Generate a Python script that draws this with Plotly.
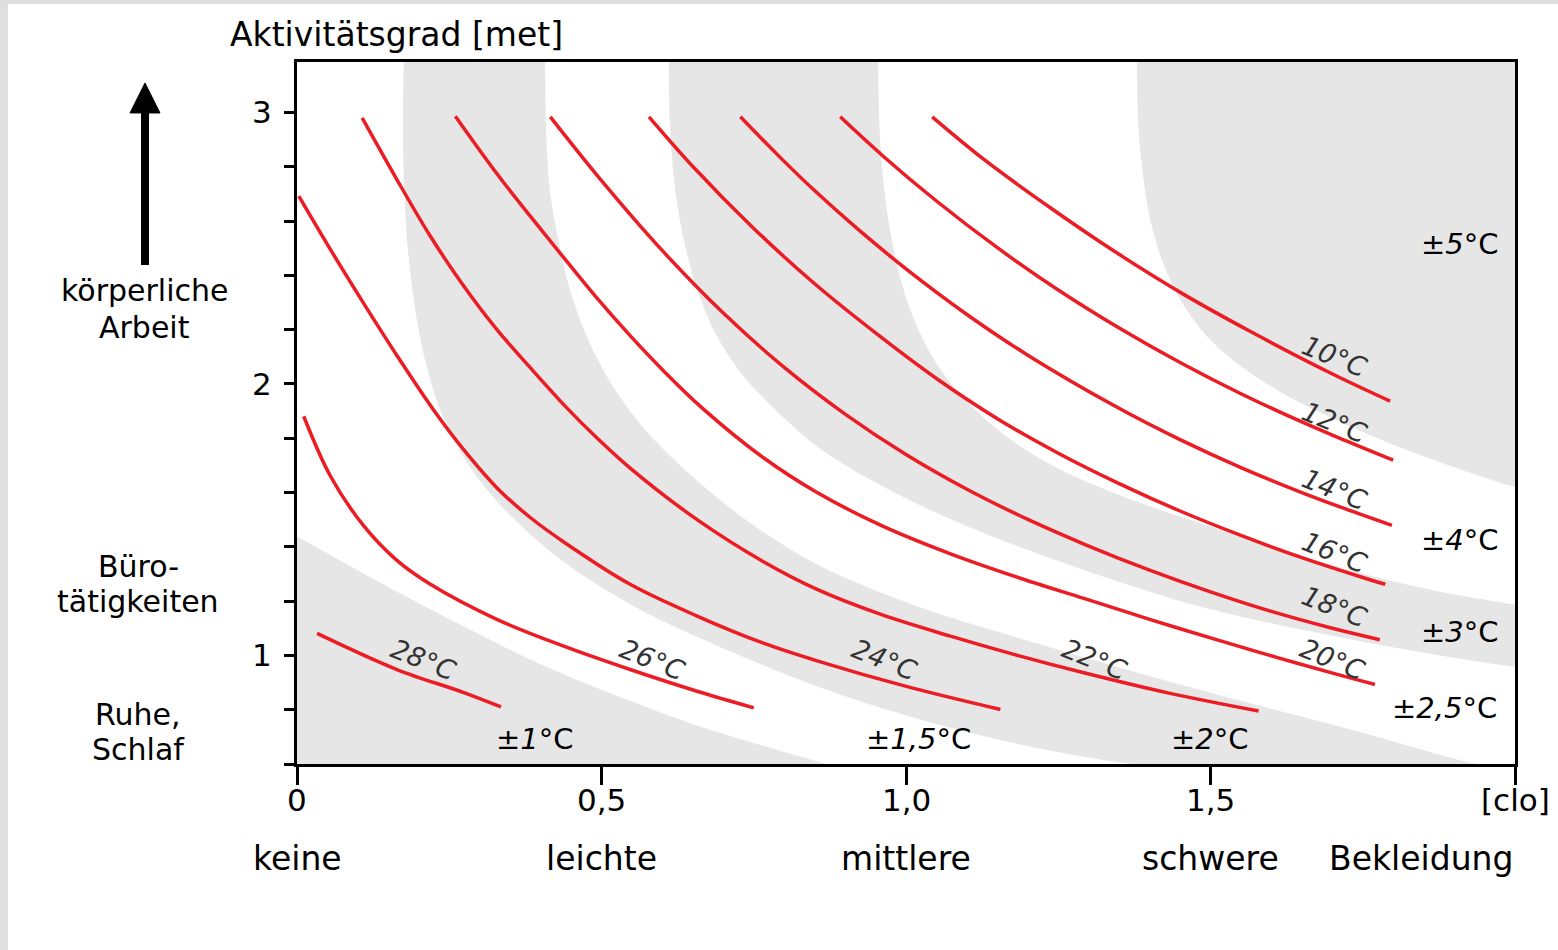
import plotly.graph_objects as go

# ---------------- data ----------------
# x = clothing insulation [clo], y = activity level [met]
T10_X = [1.043, 1.128, 1.237, 1.346, 1.456, 1.565, 1.702, 1.795]
T10_Y = [2.984, 2.827, 2.649, 2.483, 2.330, 2.194, 2.035, 1.937]
T12_X = [0.892, 0.963, 1.050, 1.150, 1.250, 1.350, 1.450, 1.550, 1.650, 1.708, 1.800]
T12_Y = [2.984, 2.838, 2.674, 2.502, 2.346, 2.206, 2.079, 1.964, 1.860, 1.804, 1.719]
T14_X = [0.728, 0.790, 0.848, 0.920, 1.000, 1.100, 1.200, 1.346, 1.450, 1.550, 1.650, 1.708, 1.798]
T14_Y = [2.984, 2.842, 2.716, 2.572, 2.424, 2.256, 2.106, 1.915, 1.795, 1.692, 1.600, 1.551, 1.479]
T16_X = [0.578, 0.650, 0.750, 0.850, 0.950, 1.050, 1.150, 1.250, 1.350, 1.450, 1.550, 1.650, 1.750, 1.787]
T16_Y = [2.984, 2.801, 2.573, 2.369, 2.188, 2.020, 1.872, 1.745, 1.633, 1.532, 1.442, 1.360, 1.287, 1.262]
T18_X = [0.416, 0.500, 0.600, 0.700, 0.800, 0.900, 1.000, 1.100, 1.200, 1.300, 1.400, 1.500, 1.600, 1.700, 1.778]
T18_Y = [2.984, 2.749, 2.491, 2.261, 2.061, 1.889, 1.740, 1.612, 1.501, 1.403, 1.314, 1.234, 1.162, 1.100, 1.058]
T20_X = [0.260, 0.328, 0.383, 0.438, 0.493, 0.547, 0.602, 0.665, 0.766, 0.854, 0.960, 1.072, 1.180, 1.292, 1.400, 1.511, 1.610, 1.708, 1.770]
T20_Y = [2.986, 2.775, 2.618, 2.465, 2.315, 2.178, 2.048, 1.912, 1.728, 1.600, 1.478, 1.375, 1.290, 1.210, 1.133, 1.057, 0.992, 0.930, 0.893]
T22_X = [0.107, 0.164, 0.219, 0.274, 0.328, 0.383, 0.443, 0.493, 0.547, 0.657, 0.766, 0.854, 0.960, 1.073, 1.180, 1.292, 1.430, 1.579]
T22_Y = [2.980, 2.753, 2.544, 2.360, 2.201, 2.060, 1.912, 1.800, 1.690, 1.500, 1.345, 1.243, 1.150, 1.071, 1.002, 0.936, 0.862, 0.795]
T24_X = [0.003, 0.055, 0.110, 0.164, 0.224, 0.274, 0.328, 0.383, 0.438, 0.547, 0.657, 0.766, 0.854, 1.002, 1.155]
T24_Y = [2.692, 2.495, 2.295, 2.105, 1.905, 1.757, 1.618, 1.508, 1.418, 1.262, 1.145, 1.045, 0.980, 0.885, 0.801]
T26_X = [0.011, 0.055, 0.110, 0.164, 0.219, 0.328, 0.438, 0.547, 0.657, 0.750]
T26_Y = [1.881, 1.660, 1.476, 1.350, 1.262, 1.133, 1.034, 0.948, 0.868, 0.807]
T28_X = [0.033, 0.164, 0.274, 0.335]
T28_Y = [1.081, 0.948, 0.863, 0.810]

CURVES = [(T10_X, T10_Y), (T12_X, T12_Y), (T14_X, T14_Y), (T16_X, T16_Y),
          (T18_X, T18_Y), (T20_X, T20_Y), (T22_X, T22_Y), (T24_X, T24_Y),
          (T26_X, T26_Y), (T28_X, T28_Y)]

TEMP_LABELS = ["10°C", "12°C", "14°C", "16°C", "18°C", "20°C", "22°C", "24°C", "26°C", "28°C"]
TEMP_LABEL_X = [1.704, 1.704, 1.704, 1.704, 1.703, 1.701, 1.310, 0.964, 0.583, 0.207]
TEMP_LABEL_Y = [2.101, 1.858, 1.611, 1.379, 1.180, 0.985, 0.985, 0.985, 0.985, 0.985]

# boundaries of the tolerance bands (grey / white), continued beyond the frame
B1_X = [-0.10, 0.0, 0.136, 0.268, 0.383, 0.498, 0.662, 0.849, 0.95]
B1_Y = [1.56, 1.438, 1.269, 1.114, 0.985, 0.875, 0.738, 0.613, 0.545]
B2_X = [0.177, 0.174, 0.176, 0.182, 0.194, 0.210, 0.235, 0.276, 0.333, 0.432, 0.563, 0.711, 0.859, 1.023, 1.187, 1.319, 1.450]
B2_Y = [3.40, 2.974, 2.716, 2.495, 2.274, 2.090, 1.906, 1.722, 1.556, 1.354, 1.169, 1.015, 0.882, 0.764, 0.672, 0.617, 0.573]
B3_X = [0.407, 0.409, 0.415, 0.429, 0.448, 0.478, 0.517, 0.571, 0.645, 0.736, 0.854, 1.023, 1.220, 1.401, 1.578, 1.749, 1.905, 2.05]
B3_Y = [3.40, 2.937, 2.716, 2.532, 2.348, 2.164, 1.998, 1.832, 1.667, 1.501, 1.335, 1.177, 1.041, 0.923, 0.816, 0.716, 0.617, 0.545]
B4_X = [0.611, 0.612, 0.621, 0.635, 0.657, 0.688, 0.731, 0.785, 0.854, 0.941, 1.056, 1.220, 1.483, 1.773, 1.997, 2.05]
B4_Y = [3.40, 2.974, 2.716, 2.532, 2.348, 2.182, 2.035, 1.906, 1.770, 1.648, 1.519, 1.372, 1.180, 1.041, 0.959, 0.950]
B5_X = [0.954, 0.956, 0.961, 0.971, 0.987, 1.013, 1.051, 1.105, 1.171, 1.253, 1.369, 1.515, 1.647, 1.787, 1.893, 1.997, 2.05]
B5_Y = [3.40, 2.974, 2.790, 2.606, 2.422, 2.238, 2.072, 1.924, 1.796, 1.685, 1.575, 1.464, 1.368, 1.280, 1.228, 1.188, 1.170]
B6_X = [1.379, 1.381, 1.388, 1.401, 1.423, 1.455, 1.499, 1.557, 1.631, 1.722, 1.812, 1.911, 1.998, 2.05]
B6_Y = [3.40, 2.974, 2.790, 2.606, 2.440, 2.293, 2.164, 2.053, 1.950, 1.851, 1.766, 1.685, 1.622, 1.600]

TOL_LABELS = ["±<i>1</i>°C", "±<i>1,5</i>°C", "±<i>2</i>°C", "±<i>2,5</i>°C", "±<i>3</i>°C", "±<i>4</i>°C", "±<i>5</i>°C"]
TOL_X = [0.391, 1.020, 1.499, 1.885, 1.910, 1.910, 1.910]
TOL_Y = [0.691, 0.691, 0.691, 0.808, 1.088, 1.424, 2.514]

X_TICKS = [0, 0.5, 1.0, 1.5, 2.0]
X_TICK_TEXT = ["0", "0,5", "1,0", "1,5", "[clo]"]
X_CLASS_X = [0, 0.5, 1.0, 1.5]
X_CLASS_TEXT = ["keine", "leichte", "mittlere", "schwere"]
Y_TICKS = [1, 2, 3]
Y_TICK_TEXT = ["1", "2", "3"]

X_RANGE = [0, 2.0]
Y_RANGE = [0.6, 3.186]

# ---------------- styling ----------------
GREY = "#e6e6e6"
RED = "#ec1c24"
FONT = "DejaVu Sans"

fig = go.Figure()


def spline_trace(xs, ys, fill=None):
    return go.Scatter(x=xs, y=ys, mode="lines", line=dict(width=0, shape="spline", smoothing=0.9),
                      fill=fill, fillcolor=GREY, hoverinfo="skip", showlegend=False)


xlo, xhi = X_RANGE[0] - 0.3, X_RANGE[1] + 0.3
ylo, yhi = Y_RANGE[0] - 0.3, Y_RANGE[1] + 0.3
# +-1 band (bottom-left corner)
fig.add_trace(go.Scatter(x=[xlo, xlo, B1_X[-1] + 0.2], y=[B1_Y[0], ylo, ylo], mode="lines",
                         line=dict(width=0), hoverinfo="skip", showlegend=False))
fig.add_trace(spline_trace(B1_X, B1_Y, "tonexty"))
# +-2 band
fig.add_trace(spline_trace(B2_X, B2_Y))
fig.add_trace(spline_trace(B3_X, B3_Y, "tonexty"))
# +-3 band
fig.add_trace(spline_trace(B4_X, B4_Y))
fig.add_trace(spline_trace(B5_X, B5_Y, "tonexty"))
# +-5 band (top-right corner)
fig.add_trace(go.Scatter(x=[B6_X[0], xhi, xhi], y=[yhi, yhi, B6_Y[-1]], mode="lines",
                         line=dict(width=0), hoverinfo="skip", showlegend=False))
fig.add_trace(spline_trace(B6_X, B6_Y, "tonexty"))

# red isotherms
for cx, cy in CURVES:
    fig.add_trace(go.Scatter(x=cx, y=cy, mode="lines",
                             line=dict(color=RED, width=3.5, shape="spline", smoothing=1.0),
                             hoverinfo="skip", showlegend=False))

annotations = []
for t, x, y in zip(TEMP_LABELS, TEMP_LABEL_X, TEMP_LABEL_Y):
    annotations.append(dict(x=x, y=y, xref="x", yref="y", text="<i>" + t + "</i>", showarrow=False,
                            textangle=22, font=dict(family=FONT, size=27, color="#333333")))
for t, x, y in zip(TOL_LABELS, TOL_X, TOL_Y):
    annotations.append(dict(x=x, y=y, xref="x", yref="y", text=t, showarrow=False,
                            font=dict(family=FONT, size=29, color="black")))
# x tick labels (first row) and clothing classes (second row)
for t, x in zip(X_TICK_TEXT, X_TICKS):
    annotations.append(dict(x=x, y=-0.0513, xref="x", yref="paper", text=t, showarrow=False,
                            yanchor="middle", font=dict(family=FONT, size=31, color="black")))
for t, x in zip(X_CLASS_TEXT, X_CLASS_X):
    annotations.append(dict(x=x, y=-0.134, xref="x", yref="paper", text=t, showarrow=False,
                            yanchor="middle", font=dict(family=FONT, size=33, color="black")))
annotations.append(dict(x=2.0, y=-0.134, xref="x", yref="paper", text="Bekleidung", showarrow=False,
                        xanchor="right", yanchor="middle", font=dict(family=FONT, size=33, color="black")))
annotations.append(dict(x=-0.0567, y=1.0385, xref="paper", yref="paper", text="Aktivitätsgrad [met]",
                        showarrow=False, xanchor="left", yanchor="middle",
                        font=dict(family=FONT, size=33, color="black")))
side = [("körperliche", -0.1248, 0.6738), ("Arbeit", -0.1248, 0.6225),
        ("Büro-", -0.1305, 0.2820), ("tätigkeiten", -0.1305, 0.2308),
        ("Ruhe,", -0.1305, 0.0712), ("Schlaf", -0.1305, 0.0200)]
for t, x, y in side:
    annotations.append(dict(x=x, y=y, xref="paper", yref="paper", text=t, showarrow=False,
                            xanchor="center", yanchor="middle", font=dict(family=FONT, size=30, color="black")))

shapes = [
    # page border strips
    dict(type="rect", xref="paper", yref="paper", x0=-0.26, x1=-0.2373, y0=-0.3, y1=1.1,
         fillcolor="#dedede", line=dict(width=0), layer="below"),
    dict(type="rect", xref="paper", yref="paper", x0=-0.26, x1=1.06, y0=1.0826, y1=1.1,
         fillcolor="#dedede", line=dict(width=0), layer="below"),
    # arrow
    dict(type="line", xref="paper", yref="paper", x0=-0.1248, x1=-0.1248, y0=0.7108, y1=0.935,
         line=dict(color="black", width=8)),
    dict(type="path", xref="paper", yref="paper",
         path="M -0.1371,0.9274 L -0.1248,0.9701 L -0.1125,0.9274 Z",
         fillcolor="black", line=dict(color="black", width=1)),
]

fig.update_layout(
    width=1558, height=950,
    margin=dict(l=297, r=43, t=62, b=186),
    paper_bgcolor="white", plot_bgcolor="white",
    showlegend=False,
    annotations=annotations,
    shapes=shapes,
    font=dict(family=FONT, color="black"),
)
fig.update_xaxes(range=X_RANGE, tickvals=X_TICKS, showticklabels=False, ticks="outside", ticklen=18,
                 tickwidth=3, tickcolor="black", showline=True, linewidth=3, linecolor="black",
                 mirror=True, showgrid=False, zeroline=False)
fig.update_yaxes(range=Y_RANGE, tickvals=Y_TICKS, ticktext=Y_TICK_TEXT, ticks="outside", ticklen=10,
                 tickwidth=3, tickcolor="black", showline=True, linewidth=3, linecolor="black",
                 mirror=True, showgrid=False, zeroline=False,
                 minor=dict(dtick=0.2, tick0=0, ticks="outside", ticklen=10, tickwidth=3,
                            tickcolor="black", showgrid=False),
                 tickfont=dict(family=FONT, size=31, color="black"), ticklabelstandoff=6)

fig.write_html("out.html", config={"displayModeBar": False},
               post_script="document.body.style.margin='0';document.documentElement.style.overflow='hidden';")
